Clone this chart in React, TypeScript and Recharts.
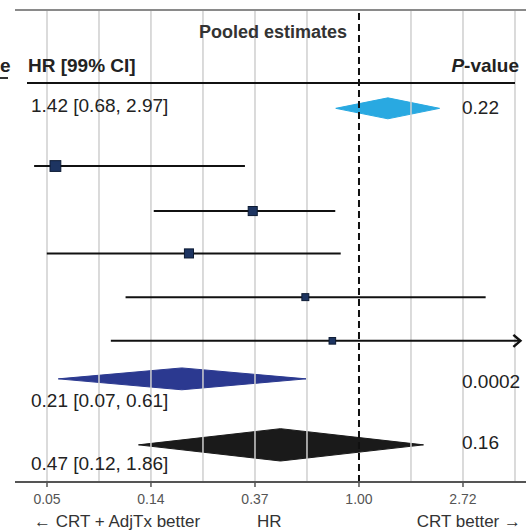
import React from 'react'
import { ComposedChart, XAxis, YAxis, Area, Line, Scatter, ReferenceLine } from 'recharts'

// individual studies (HR with 99% CI)
const studyHR = [0.054, 0.36, 0.195, 0.597, 0.774]
const studyLo = [0.044, 0.139, 0.0497, 0.106, 0.092]
const studyHi = [0.334, 0.796, 0.839, 3.38, 4.72]
const studyWeight = [24, 17, 17, 10, 9]
const studyTruncated = [false, false, false, false, true]

// pooled estimates
const pooledLabels = ['1.42 [0.68, 2.97]', '0.21 [0.07, 0.61]', '0.47 [0.12, 1.86]']
const pooledHR = [1.32, 0.182, 0.47]
const pooledLo = [0.8, 0.0555, 0.12]
const pooledHi = [2.17, 0.601, 1.86]
const pooledP = ['0.22', '0.0002', '0.16']

// axis
const tickValues = [0.0498, 0.1353, 0.3679, 1, 2.7183]
const gridValues = [0.0498, 0.0821, 0.1353, 0.2231, 0.3679, 0.6065, 1.6487, 2.7183, 4.4817]

// layout
const W = 526
const H = 531
const FONT = '"Liberation Sans", Arial, Helvetica, sans-serif'
const studyRows = [3.57, 4.6, 5.57, 6.57, 7.57]
const pooledRows = [2.25, 8.44, 9.95]
const pooledHalf = [0.24, 0.25, 0.37]
const pooledColors = ['#29a9e1', '#2b3990', '#1a1a1a']
const pooledLabelTop = [96, 391, 454]
const pooledPTop = [98, 372, 433]

const Arrow = (props: any) => {
  const { cx, cy, index, truncated } = props
  if (!truncated || index !== 1 || cx == null) return <g key={'a' + index} />
  return (
    <path
      key={'a' + index}
      d={`M${cx - 7},${cy - 6} L${cx},${cy} L${cx - 7},${cy + 6}`}
      fill="none"
      stroke="#111"
      strokeWidth={2.5}
    />
  )
}

const Square = (props: any) => {
  const { cx, cy, payload } = props
  const s = 2.2 * Math.sqrt(payload.w)
  return <rect x={cx - s / 2} y={cy - s / 2} width={s} height={s} fill="#1d3461" stroke="#0c1a33" strokeWidth={1} />
}

function txt(top: number, left: number, content: React.ReactNode, extra: React.CSSProperties = {}) {
  return (
    <div
      style={{
        position: 'absolute', top, left, fontFamily: FONT, fontSize: 19, lineHeight: '19px',
        color: '#222', whiteSpace: 'nowrap', ...extra,
      }}
    >
      {content}
    </div>
  )
}

export default function App() {
  const squares = studyHR.map((v, i) => ({ x: v, y: studyRows[i], w: studyWeight[i] }))

  return (
    <div style={{ position: 'absolute', left: 0, top: 0, width: W, height: H, background: '#fff', overflow: 'hidden' }}>
      <ComposedChart width={W} height={H} margin={{ top: 10, right: 0, bottom: 29, left: 15 }}>
        <XAxis
          dataKey="x"
          type="number"
          scale="log"
          domain={[0.03661, 4.982]}
          allowDataOverflow
          ticks={tickValues}
          tickFormatter={(v: number) => v.toFixed(2)}
          height={20}
          axisLine={{ stroke: '#555', strokeWidth: 2 }}
          tickLine={{ stroke: '#555', strokeWidth: 1.5 }}
          tickSize={5}
          tickMargin={7}
          tick={{ fill: '#555', fontSize: 14, fontFamily: FONT }}
        />
        <YAxis
          type="number"
          domain={[0, 10.8]}
          reversed
          allowDataOverflow
          width={0}
          tick={false}
          tickLine={false}
          axisLine={{ stroke: '#555', strokeWidth: 2 }}
        />
        {gridValues.map(v => (
          <ReferenceLine key={'g' + v} x={v} stroke="#cfcfcf" strokeWidth={1.5} />
        ))}
        <ReferenceLine y={0} stroke="#8a8a8a" strokeWidth={2} />
        <ReferenceLine x={1} stroke="#111" strokeWidth={2} strokeDasharray="7 4" />
        {pooledHR.map((m, i) => {
          const r = pooledRows[i]
          const h = pooledHalf[i]
          const d = [
            { x: pooledLo[i], band: [r, r] },
            { x: m, band: [r - h, r + h] },
            { x: pooledHi[i], band: [r, r] },
          ]
          return (
            <Area
              key={'d' + i}
              data={d}
              dataKey="band"
              type="linear"
              fill={pooledColors[i]}
              fillOpacity={1}
              stroke={pooledColors[i]}
              strokeWidth={1}
              dot={false}
              activeDot={false}
              isAnimationActive={false}
            />
          )
        })}
        {studyHR.map((_, i) => (
          <Line
            key={'ci' + i}
            data={[{ x: studyLo[i], y: studyRows[i] }, { x: studyHi[i], y: studyRows[i] }]}
            dataKey="y"
            type="linear"
            stroke="#111"
            strokeWidth={2}
            dot={(p: any) => <Arrow {...p} truncated={studyTruncated[i]} />}
            activeDot={false}
            isAnimationActive={false}
          />
        ))}
        <Scatter data={squares} dataKey="y" shape={Square} isAnimationActive={false} />
      </ComposedChart>

      {/* header */}
      {txt(23, 198, 'Pooled estimates', { fontWeight: 'bold', color: '#333', width: 150, textAlign: 'center', fontSize: 18 })}
      {txt(56, 28, 'HR [99% CI]', { fontWeight: 'bold' })}
      {txt(56, 400, <span><i>P</i>-value</span>, { fontWeight: 'bold', width: 119, textAlign: 'right' })}
      {txt(56, 0, 'e', { fontWeight: 'bold' })}
      <div style={{ position: 'absolute', top: 77, left: 0, width: 8, height: 2, background: '#333' }} />
      <div style={{ position: 'absolute', top: 82, left: 27, width: 488, height: 2, background: '#111' }} />

      {pooledLabels.map((l, i) => (
        <React.Fragment key={'pl' + i}>
          {txt(pooledLabelTop[i], 31, l)}
          {txt(pooledPTop[i], 462, pooledP[i])}
        </React.Fragment>
      ))}

      {/* bottom captions */}
      {txt(512, 34, '← CRT + AdjTx better', { fontSize: 17, color: '#333' })}
      {txt(512, 257, 'HR', { fontSize: 17, color: '#333' })}
      {txt(512, 400, 'CRT better →', { fontSize: 17, color: '#333', width: 121, textAlign: 'right' })}
    </div>
  )
}
